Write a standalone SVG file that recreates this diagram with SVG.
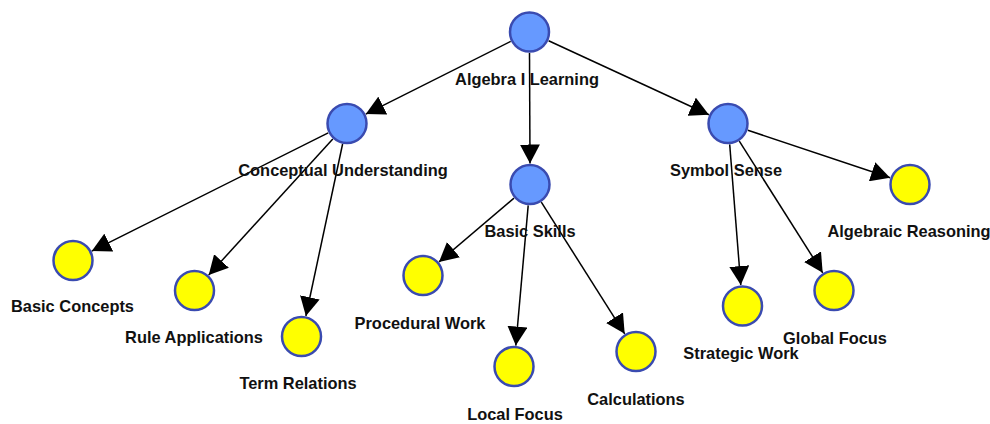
<svg xmlns="http://www.w3.org/2000/svg" width="990" height="424" viewBox="0 0 990 424">
  <style>
    .edge { stroke: #000; stroke-width: 1.5; fill: none; marker-end: url(#arrow); }
    .hub { fill: #6699ff; stroke: #3a4bb0; stroke-width: 2.5; }
    .leaf { fill: #ffff00; stroke: #3a4bb0; stroke-width: 2.5; }
    .label { font-family: "Liberation Sans", Arial, sans-serif; font-weight: bold; font-size: 16.4px; fill: #111; text-anchor: middle; }
  </style>
  <defs>
    <marker id="arrow" viewBox="0 0 19 20" refX="19" refY="10" markerWidth="19" markerHeight="20" markerUnits="userSpaceOnUse" orient="auto">
      <path d="M0,0 L19,10 L0,20 Z" fill="#000"/>
    </marker>
  </defs>
  <rect width="990" height="424" fill="#fff"/>

  <g id="connectors">
    <line class="edge" x1="510.7" y1="41.4" x2="365.8" y2="114.1"/>
    <line class="edge" x1="529.5" y1="53" x2="530" y2="163.5"/>
    <line class="edge" x1="548.6" y1="40.8" x2="708.9" y2="114.7"/>
    <line class="edge" x1="328.2" y1="132.9" x2="91.8" y2="251.1"/>
    <line class="edge" x1="332.8" y1="139.0" x2="208.7" y2="275.0"/>
    <line class="edge" x1="342.6" y1="144.0" x2="305.9" y2="316.0"/>
    <line class="edge" x1="514.0" y1="198.1" x2="439.0" y2="261.9"/>
    <line class="edge" x1="528.2" y1="205.4" x2="515.8" y2="345.6"/>
    <line class="edge" x1="541.3" y1="202.2" x2="624.7" y2="333.8"/>
    <line class="edge" x1="729.7" y1="144.4" x2="740.8" y2="285.1"/>
    <line class="edge" x1="739.3" y1="141.2" x2="822.7" y2="272.8"/>
    <line class="edge" x1="747.9" y1="130.2" x2="890.1" y2="177.8"/>
  </g>

  <g id="algebra-i-learning">
    <circle class="hub" cx="529.5" cy="32" r="19.5"/>
    <text class="label" x="527" y="85">Algebra I Learning</text>
  </g>
  <g id="conceptual-understanding">
    <circle class="hub" cx="347" cy="123.5" r="19.5"/>
    <text class="label" x="343" y="176">Conceptual Understanding</text>
  </g>
  <g id="basic-skills">
    <circle class="hub" cx="530" cy="184.5" r="19.5"/>
    <text class="label" x="530" y="237">Basic Skills</text>
  </g>
  <g id="symbol-sense">
    <circle class="hub" cx="728" cy="123.5" r="19.5"/>
    <text class="label" x="726" y="176">Symbol Sense</text>
  </g>
  <g id="algebraic-reasoning">
    <circle class="leaf" cx="910" cy="184.5" r="19.5"/>
    <text class="label" x="909" y="237">Algebraic Reasoning</text>
  </g>
  <g id="basic-concepts">
    <circle class="leaf" cx="73" cy="260.5" r="19.5"/>
    <text class="label" x="72.5" y="312">Basic Concepts</text>
  </g>
  <g id="rule-applications">
    <circle class="leaf" cx="194.5" cy="290.5" r="19.5"/>
    <text class="label" x="194" y="343">Rule Applications</text>
  </g>
  <g id="term-relations">
    <circle class="leaf" cx="301.5" cy="336.5" r="19.5"/>
    <text class="label" x="298" y="389">Term Relations</text>
  </g>
  <g id="procedural-work">
    <circle class="leaf" cx="423" cy="275.5" r="19.5"/>
    <text class="label" x="420" y="329">Procedural Work</text>
  </g>
  <g id="local-focus">
    <circle class="leaf" cx="514" cy="366.5" r="19.5"/>
    <text class="label" x="515" y="420">Local Focus</text>
  </g>
  <g id="calculations">
    <circle class="leaf" cx="636" cy="351.5" r="19.5"/>
    <text class="label" x="636" y="405">Calculations</text>
  </g>
  <g id="strategic-work">
    <circle class="leaf" cx="742.5" cy="306" r="19.5"/>
    <text class="label" x="741" y="359">Strategic Work</text>
  </g>
  <g id="global-focus">
    <circle class="leaf" cx="834" cy="290.5" r="19.5"/>
    <text class="label" x="835" y="344">Global Focus</text>
  </g>
</svg>
